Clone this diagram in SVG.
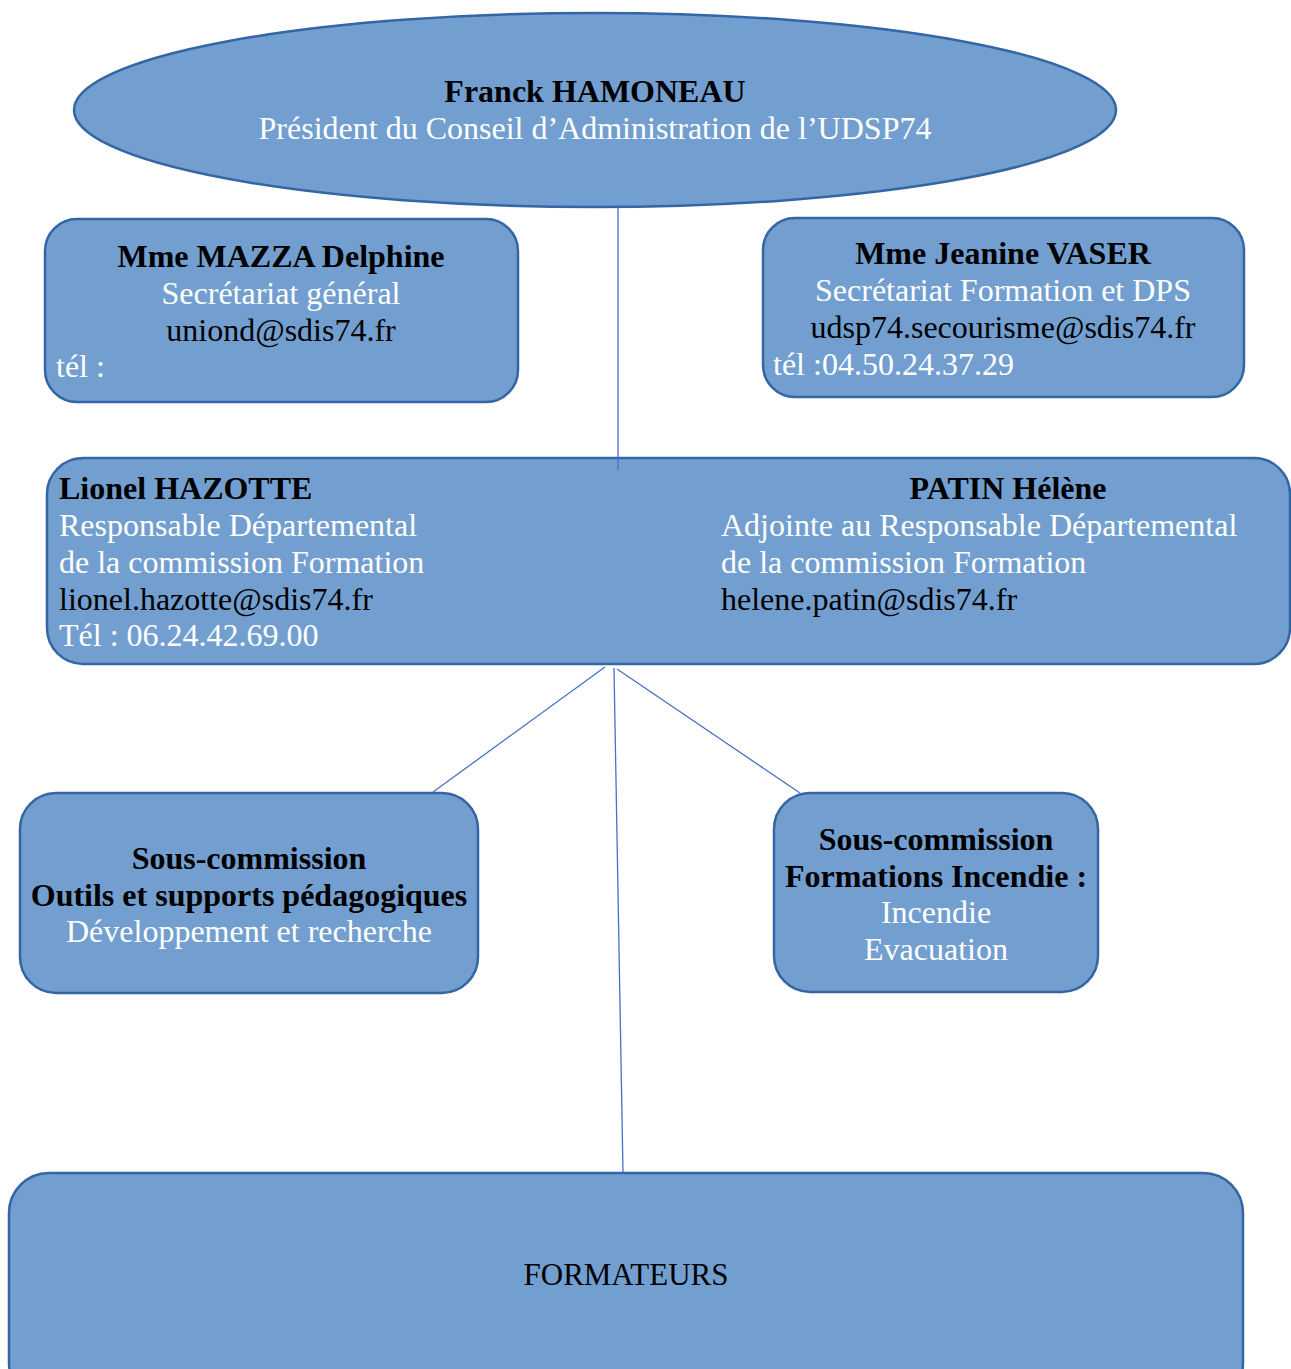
<svg xmlns="http://www.w3.org/2000/svg" width="1291" height="1369" viewBox="0 0 1291 1369">
<style>
.n{fill:#729fcf;stroke:#3465a4;stroke-width:2.5}
.c{stroke:#4472c4;stroke-width:1.3;fill:none}
text{font-family:"Liberation Serif","Times New Roman",serif;font-size:32px}
.b{font-weight:bold;fill:#000}
.w{fill:#ffffff}
.k{fill:#000}
.m{text-anchor:middle}
</style>
<rect width="1291" height="1369" fill="#ffffff"/>
<g id="president">
<ellipse class="n" cx="595" cy="110" rx="521" ry="97"/>
<text class="b m" x="595" y="102">Franck HAMONEAU</text>
<text class="w m" x="595" y="139">Président du Conseil d’Administration de l’UDSP74</text>
</g>
<g id="mazza">
<rect class="n" x="45" y="219" width="473" height="183" rx="32"/>
<text class="b m" x="281" y="267">Mme MAZZA Delphine</text>
<text class="w m" x="281" y="304">Secrétariat général</text>
<text class="k m" x="281" y="341">uniond@sdis74.fr</text>
<text class="w" x="56" y="377">tél :</text>
</g>
<g id="vaser">
<rect class="n" x="763" y="218" width="481" height="179" rx="32"/>
<text class="b m" x="1003" y="264">Mme Jeanine VASER</text>
<text class="w m" x="1003" y="301">Secrétariat Formation et DPS</text>
<text class="k m" x="1003" y="338">udsp74.secourisme@sdis74.fr</text>
<text class="w" x="773" y="375">tél :04.50.24.37.29</text>
</g>
<g id="responsables">
<rect class="n" x="47" y="458" width="1243" height="206" rx="36"/>
<text class="b" x="59" y="499">Lionel HAZOTTE</text>
<text class="w" x="59" y="536">Responsable Départemental</text>
<text class="w" x="59" y="573">de la commission Formation</text>
<text class="k" x="59" y="610">lionel.hazotte@sdis74.fr</text>
<text class="w" x="59" y="646">Tél : 06.24.42.69.00</text>
<text class="b m" x="1008" y="499">PATIN Hélène</text>
<text class="w" x="721" y="536">Adjointe au Responsable Départemental</text>
<text class="w" x="721" y="573">de la commission Formation</text>
<text class="k" x="721" y="610">helene.patin@sdis74.fr</text>
</g>
<g id="outils">
<rect class="n" x="20" y="793" width="458" height="200" rx="36"/>
<text class="b m" x="249" y="869">Sous-commission</text>
<text class="b m" x="249" y="906">Outils et supports pédagogiques</text>
<text class="w m" x="249" y="942">Développement et recherche</text>
</g>
<g id="incendie">
<rect class="n" x="774" y="793" width="324" height="199" rx="36"/>
<text class="b m" x="936" y="850">Sous-commission</text>
<text class="b m" x="936" y="887">Formations Incendie :</text>
<text class="w m" x="936" y="923">Incendie</text>
<text class="w m" x="936" y="960">Evacuation</text>
</g>
<g id="formateurs">
<rect class="n" x="9" y="1173" width="1234" height="230" rx="40"/>
<text class="k m" x="626" y="1285" style="font-size:31px">FORMATEURS</text>
</g>
<g id="connectors">
<line class="c" x1="618" y1="208" x2="618" y2="470"/>
<line class="c" x1="605" y1="667" x2="433" y2="792"/>
<line class="c" x1="614" y1="668" x2="623" y2="1173"/>
<line class="c" x1="617" y1="669" x2="800" y2="793"/>
</g>
</svg>
